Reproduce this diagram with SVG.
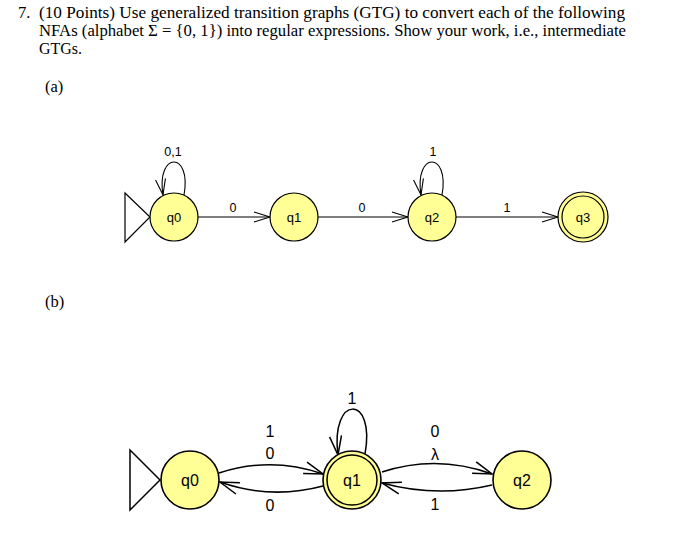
<svg xmlns="http://www.w3.org/2000/svg" width="680" height="545" viewBox="0 0 680 545">
<style>
.hdr{font-family:"Liberation Serif","Times New Roman",serif;font-size:16.5px;fill:#000}
.st{fill:#ffff96;stroke:#000}
.sa{stroke-width:1.2}
.sb{stroke-width:1.6}
.nl{font-family:"Liberation Sans",Arial,sans-serif;fill:#000;text-anchor:middle}
.na{font-size:13px}
.nb{font-size:16px}
.ea{font-family:"Liberation Sans",Arial,sans-serif;font-size:12.5px;text-anchor:middle;fill:#000}
.eb{font-family:"Liberation Sans",Arial,sans-serif;font-size:16px;text-anchor:middle;fill:#000}
.ca{fill:none;stroke:#000;stroke-width:1.1}
.cb{fill:none;stroke:#000;stroke-width:1.5}
.init{fill:none;stroke:#000}
</style>
<defs>
<marker id="arrA" viewBox="0 0 18 12" refX="17" refY="6" markerWidth="18" markerHeight="12" markerUnits="userSpaceOnUse" orient="auto">
<path d="M1,1 L17,6 L1,11" fill="none" stroke="#000" stroke-width="1.1"/>
</marker>
<marker id="arrB" viewBox="0 0 21 14" refX="20" refY="7" markerWidth="21" markerHeight="14" markerUnits="userSpaceOnUse" orient="auto">
<path d="M1,1 L20,7 L1,13" fill="none" stroke="#000" stroke-width="1.5"/>
</marker>
</defs>
<rect width="680" height="545" fill="#fff"/>
<g id="header">
<text class="hdr" x="18" y="18">7.</text>
<text class="hdr" x="39" y="18" textLength="586" lengthAdjust="spacingAndGlyphs">(10 Points) Use generalized transition graphs (GTG) to convert each of the following</text>
<text class="hdr" x="39" y="36" textLength="587" lengthAdjust="spacingAndGlyphs">NFAs (alphabet Σ = {0, 1}) into regular expressions. Show your work, i.e., intermediate</text>
<text class="hdr" x="39" y="54" textLength="43" lengthAdjust="spacingAndGlyphs">GTGs.</text>
<text class="hdr" x="45" y="92">(a)</text>
<text class="hdr" x="45" y="307">(b)</text>
</g>
<g id="connectors">
<polygon class="init" points="125,193 150,217 125,242" stroke-width="1.2"/>
<path class="ca" d="M184,195 C192,151 156,151 163,195" marker-end="url(#arrA)"/>
<path class="ca" d="M198,217 L270,217" marker-end="url(#arrA)"/>
<path class="ca" d="M318,217 L408,217" marker-end="url(#arrA)"/>
<path class="ca" d="M442,195 C450,151 414,151 421,195" marker-end="url(#arrA)"/>
<path class="ca" d="M456,217 L558,217" marker-end="url(#arrA)"/>
<polygon class="init" points="130,450 160,480 130,510" stroke-width="1.5"/>
<path class="cb" d="M219,473 Q271,456 323,474" marker-end="url(#arrB)"/>
<path class="cb" d="M323,486 Q271,500 220,482" marker-end="url(#arrB)"/>
<path class="cb" d="M365,454 C376,394 330,394 338,455" marker-end="url(#arrB)"/>
<path class="cb" d="M382,472 Q437,454 492,474" marker-end="url(#arrB)"/>
<path class="cb" d="M492,485 Q437,498 382,483" marker-end="url(#arrB)"/>
<text class="ea" x="173" y="156">0,1</text>
<text class="ea" x="233" y="212">0</text>
<text class="ea" x="362" y="212">0</text>
<text class="ea" x="433" y="156">1</text>
<text class="ea" x="507" y="212">1</text>
<text class="eb" x="270" y="437">1</text>
<text class="eb" x="270" y="459">0</text>
<text class="eb" x="270" y="511">0</text>
<text class="eb" x="352" y="404">1</text>
<text class="eb" x="435" y="437">0</text>
<text class="eb" x="435" y="460">λ</text>
<text class="eb" x="435" y="510">1</text>
</g>
<g id="a_q0"><circle class="st sa" cx="174" cy="217" r="24"/><text class="nl na" x="174" y="222">q0</text></g>
<g id="a_q1"><circle class="st sa" cx="294" cy="217" r="24"/><text class="nl na" x="294" y="222">q1</text></g>
<g id="a_q2"><circle class="st sa" cx="432" cy="217" r="24"/><text class="nl na" x="432" y="222">q2</text></g>
<g id="a_q3"><circle class="st sa" cx="583" cy="217" r="25"/><circle fill="none" stroke="#000" stroke-width="1.2" cx="583" cy="217" r="21"/><text class="nl na" x="583" y="222">q3</text></g>
<g id="b_q0"><circle class="st sb" cx="190" cy="480" r="29"/><text class="nl nb" x="190" y="486">q0</text></g>
<g id="b_q1"><circle class="st sb" cx="352" cy="480" r="29"/><circle fill="none" stroke="#000" stroke-width="1.5" cx="352" cy="480" r="25"/><text class="nl nb" x="352" y="486">q1</text></g>
<g id="b_q2"><circle class="st sb" cx="522" cy="480" r="29"/><text class="nl nb" x="522" y="486">q2</text></g>
</svg>
